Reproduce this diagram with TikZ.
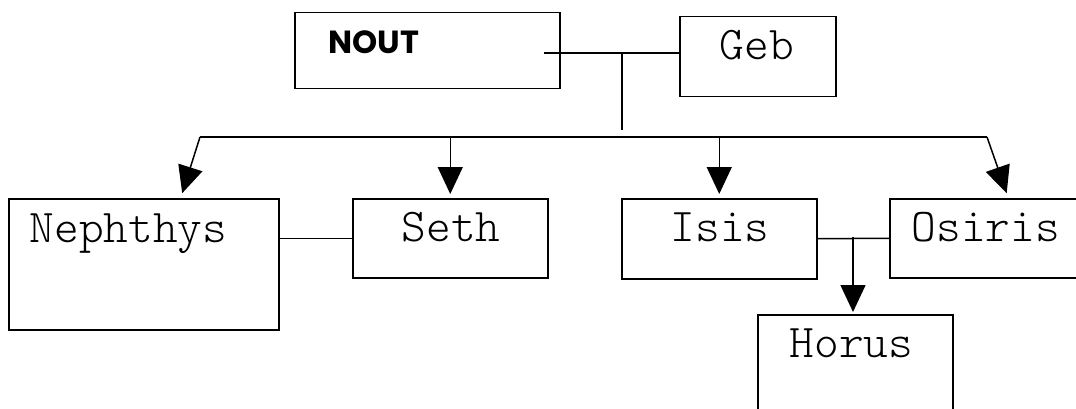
\documentclass[tikz,border=0pt]{standalone}
\usepackage{fontspec}
\setmonofont{Latin Modern Mono Light}
\newfontfamily\noutfont{Poppins}
\usetikzlibrary{arrows.meta,calc}

\tikzset{
    person/.style={draw,rectangle,inner sep=0pt,anchor=north west,line width=1.5pt},
    godname/.style={inner sep=0pt,anchor=base west,font=\ttfamily\fontsize{47}{47}\selectfont},
    arrow/.style={-{Triangle[length=27pt,width=25pt]},shorten >=4pt}
}

\begin{document}
\begin{tikzpicture}[x=1pt,y=-1pt,line width=1.5pt]
    \useasboundingbox (0,0) rectangle (1076,409);
    \clip (0,0) rectangle (1076,409);
    \node[person,minimum width=265pt,minimum height=76pt] (nout) at (294,12) {};
    \node[person,minimum width=156pt,minimum height=80pt] (geb) at (679,16) {};
    \node[person,minimum width=270pt,minimum height=131pt] (neph) at (8,198) {};
    \node[person,minimum width=195pt,minimum height=79pt] (seth) at (352,198) {};
    \node[person,minimum width=195pt,minimum height=80pt] (isis) at (621,198) {};
    \node[person,minimum width=200pt,minimum height=79pt] (osiris) at (889,198) {};
    \node[person,minimum width=195pt,minimum height=120pt] (horus) at (757,314) {};

    \node[inner sep=0pt,anchor=base west,font=\noutfont\bfseries\fontsize{32}{32}\selectfont] (noutname) at (328,54) {NOUT};
    \node[godname] (gebname) at (719,60) {Geb};
    \node[godname] (nephname) at (29,242) {Nephthys};
    \node[godname] (sethname) at (401,241) {Seth};
    \node[godname] (isisname) at (670,241) {Isis};
    \node[godname] (osirisname) at (911,241) {Osiris};
    \node[godname] (horusname) at (789,357) {Horus};

    \coordinate (couple) at (544,53);
    \coordinate (stem) at (622,53);
    \coordinate (stemend) at (622,130);
    \coordinate (barL) at (200,137);
    \coordinate (barR) at (987,137);
    \coordinate (nephtip) at (181,197);
    \coordinate (osiristip) at (1008,197);
    \coordinate (isisosiris) at (853,237);

    \draw (couple) -- (couple -| geb.west);
    \draw (stem) -- (stemend);
    \draw (barL) -- (barR);
    \draw[arrow] (barL) -- (nephtip);
    \draw[arrow] (seth.north |- barL) -- (seth.north);
    \draw[arrow] (isis.north |- barL) -- (isis.north);
    \draw[arrow] (barR) -- (osiristip);
    \draw (seth.west) -- (seth.west -| neph.east);
    \draw (isis.east) -- (osiris.west);
    \draw[arrow,shorten >=2pt] (isisosiris) -- (isisosiris |- horus.north);
\end{tikzpicture}
\end{document}
